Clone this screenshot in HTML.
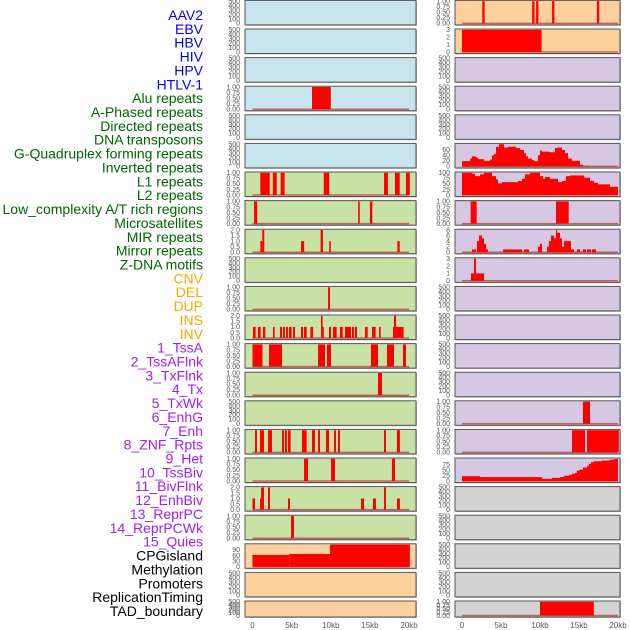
<!DOCTYPE html>
<html><head><meta charset="utf-8">
<style>
html,body{margin:0;padding:0;background:#fff;width:630px;height:630px;overflow:hidden}
svg{display:block;font-family:"Liberation Sans",sans-serif}
</style></head>
<body>
<svg id="chart" width="630" height="630" viewBox="0 0 630 630"></svg>
<script>
const trackLabels=["AAV2","EBV","HBV","HIV","HPV","HTLV-1","Alu repeats","A-Phased repeats","Directed repeats","DNA transposons","G-Quadruplex forming repeats","Inverted repeats","L1 repeats","L2 repeats","Low_complexity A/T rich regions","Microsatellites","MIR repeats","Mirror repeats","Z-DNA motifs","CNV","DEL","DUP","INS","INV","1_TssA","2_TssAFlnk","3_TxFlnk","4_Tx","5_TxWk","6_EnhG","7_Enh","8_ZNF_Rpts","9_Het","10_TssBiv","11_BivFlnk","12_EnhBiv","13_ReprPC","14_ReprPCWk","15_Quies","CPGisland","Methylation","Promoters","ReplicationTiming","TAD_boundary"];
const labelColors=[].concat(Array(6).fill("#0000ee"),Array(13).fill("#006400"),Array(5).fill("#ffa500"),Array(15).fill("#a020f0"),Array(5).fill("#000000"));
const xTicks=[0,5,10,15,20];
const xTickLabels=["0","5kb","10kb","15kb","20kb"];
const leftYmax=[500,500,500,1,500,500,1,1,2,500,1,2,1,1,500,1,1,2,1,118,500,500];
const rightYmax=[1,3,500,500,500,80,100,1,8,3,500,500,500,500,1,1,101,500,500,500,500,1];
const leftBg=["b","b","b","b","b","b","g","g","g","g","g","g","g","g","g","g","g","g","g","p","p","p"];
const rightBg=["p","p","u","u","u","u","u","u","u","u","u","u","u","u","u","u","u","k","k","k","k","k"];
const leftSegs=[[],[],[],[[7.6,10.0,1]],[],[],
[[1.0,2.2,1],[2.6,3.1,1],[3.6,4.1,1],[9.1,9.8,1],[16.8,17.3,1],[18.2,18.8,1],[19.6,20.1,1]],
[[0.2,0.6,1],[13.5,13.7,1],[15.0,15.3,1]],
[[1.0,1.25,1],[1.25,1.5,2],[6.2,6.6,1],[8.7,9.0,2],[9.8,10.0,1],[18.5,18.8,1]],
[],
[[9.65,9.9,1]],
[[0.06,0.4,1],[0.7,1.04,1],[1.34,1.64,1],[2.62,2.83,1],[3.51,3.77,1],[3.9,4.15,1],[4.28,4.53,1],[4.66,5.0,1],[5.17,5.43,1],[6.19,6.45,1],[6.58,6.92,1],[7.39,7.73,1],[8.75,8.95,2],[8.95,9.0,1],[9.77,10.03,1],[10.28,10.75,1],[11.17,11.52,1],[11.81,12.58,1],[12.71,12.96,1],[13.09,13.35,1],[14.37,14.71,1],[15.26,15.73,1],[16.16,16.37,1],[17.94,18.07,1],[18.07,18.33,2],[18.33,19.3,1]],
[[0,1.28,1],[2.1,3.77,1],[8.37,9.26,1],[9.51,10.03,1],[15.13,16.03,1],[17.18,18.07,1],[19.22,19.6,1]],
[[16.03,16.54,1]],
[],
[[0.32,0.57,1],[0.96,1.47,1],[1.98,2.49,1],[3.77,4.02,1],[4.15,4.4,1],[4.53,4.87,1],[6.32,6.92,1],[7.6,7.98,1],[8.37,8.62,1],[9.39,9.77,1],[10.41,10.66,1],[10.92,11.17,1],[16.8,17.05,1],[18.45,18.83,1]],
[[6.58,7.09,1],[10.03,10.54,1],[17.81,18.2,1]],
[[0,0.32,1],[0.96,1.1,1],[1.1,1.47,2],[1.98,2.23,2],[4.53,4.79,1],[13.86,14.24,1],[15.39,15.77,1],[16.8,17.05,2],[18.45,18.83,1]],
[[4.92,5.3,1]],
[[0,4.7,63],[4.7,9.9,68],[9.9,20.1,118]],
[],[]];
const rightSegs=[
[[2.6,2.9,1],[9.0,9.3,1],[9.5,9.8,1],[11.55,11.85,1],[17.3,17.6,1]],
[[0,10.2,3]],
[],[],[],
[[0,1.03,19],[1.03,1.28,28],[1.28,1.79,36],[1.79,2.05,32],[2.05,2.82,26],[2.82,3.59,20],[3.59,3.85,25],[3.85,4.1,40],[4.1,4.36,45],[4.36,4.74,70],[4.74,5.38,80],[5.38,5.9,68],[5.9,6.92,71],[6.92,7.44,66],[7.44,7.95,59],[7.95,8.2,48],[8.2,8.46,36],[8.46,8.97,28],[8.97,9.23,23],[9.23,9.74,19],[9.74,10.0,40],[10.0,10.26,57],[10.26,11.28,53],[11.28,11.92,51],[11.92,12.18,66],[12.18,12.82,68],[12.82,13.2,59],[13.2,13.59,48],[13.59,14.1,28],[14.1,15.13,20],[15.13,15.51,6],[15.51,16.41,2]],
[[0,1.28,100],[1.28,1.67,96],[1.67,2.31,85],[2.31,2.82,93],[2.82,3.85,100],[3.85,4.36,85],[4.36,4.62,70],[4.62,5.13,52],[5.13,7.18,58],[7.18,7.69,63],[7.69,8.08,73],[8.08,8.72,93],[8.72,10.0,100],[10.0,10.38,85],[10.38,10.64,73],[10.64,11.28,81],[11.28,12.31,73],[12.31,12.82,58],[12.82,13.33,63],[13.33,13.85,85],[13.85,15.64,88],[15.64,16.41,78],[16.41,16.92,63],[16.92,17.44,55],[17.44,18.97,48],[18.97,20.0,37]],
[[1.11,1.88,1],[12.05,13.68,1]],
[[1.28,1.79,1],[1.92,2.18,4],[2.18,2.56,6],[2.56,2.82,5],[2.82,3.08,3],[3.08,3.33,1],[5.26,7.69,1],[7.95,8.59,1],[9.74,10.0,2],[10.0,10.26,3],[10.9,11.15,2],[11.15,11.41,4],[11.41,11.79,6],[11.79,12.05,5],[12.05,12.18,8],[12.18,12.56,7],[12.56,12.82,5],[12.82,13.08,2],[13.08,13.97,4],[13.97,14.36,1],[14.74,15.13,1],[15.51,15.9,1],[16.03,16.54,1],[16.67,17.18,1]],
[[1.15,1.54,1],[1.54,1.79,3],[1.79,2.82,1]],
[],[],[],[],
[[15.51,16.41,1]],
[[14.1,15.77,1],[16.03,20.1,1]],
[[0,2.31,22],[2.31,10.26,18],[10.26,11.54,10],[11.54,12.56,14],[12.56,13.08,18],[13.08,13.72,24],[13.72,14.1,28],[14.1,14.49,33],[14.49,14.74,37],[14.74,15.0,47],[15.0,15.51,51],[15.51,16.03,61],[16.03,16.28,69],[16.28,16.54,78],[16.54,16.92,86],[16.92,17.95,90],[17.95,18.97,93],[18.97,19.49,97],[19.49,20.0,100]],
[],[],[],[],
[[10.0,16.9,1]]];
const tickSets={500:[0,100,200,300,400,500],1:[0,0.25,0.5,0.75,1],2:[0,0.5,1,1.5,2],3:[0,1,2,3],8:[0,2,4,6,8],80:[0,20,40,60],100:[0,25,50,75,100],101:[0,25,50,75],118:[0,30,60,90]};
const bgColors={b:"#c8e4ec",g:"#c8e1a4",p:"#fed09e",u:"#d6c7e2",k:"#d3d3d3"};

const NS="http://www.w3.org/2000/svg";
const svg=document.getElementById("chart");
function mk(tag,attrs,parent){const e=document.createElementNS(NS,tag);for(const k in attrs)e.setAttribute(k,attrs[k]);(parent||svg).appendChild(e);return e;}
function fmt(v,ymax){if(ymax===1)return v.toFixed(2);if(ymax===2)return v.toFixed(1);return String(v);}

// labels
trackLabels.forEach((t,i)=>{
  const e=mk("text",{x:203,y:20+i*13.86,"text-anchor":"end","font-size":"14",fill:labelColors[i]});
  e.textContent=t;
  
  
});

const cols=[{x0:245,x1:416,px0:252.5,pk:7.83,ymax:leftYmax,bg:leftBg,segs:leftSegs,tx:240,name:"left"},
            {x0:455,x1:620,px0:462,pk:7.8,ymax:rightYmax,bg:rightBg,segs:rightSegs,tx:450,name:"right"}];
cols.forEach(c=>{
  for(let i=0;i<22;i++){
    const top=0.4+i*28.6, h=(i===21)?16:24.5, bot=top+h;
    const g=mk("g",{});
    
    
    mk("rect",{x:c.x0+1,y:top+1,width:c.x1-c.x0,height:h,fill:"#bbb"},g);
    mk("rect",{x:c.x0,y:top,width:c.x1-c.x0,height:h,fill:bgColors[c.bg[i]],stroke:"#555","stroke-width":1},g);
    const ymax=c.ymax[i];
    const yS=v=>top+0.8+(1-v/ymax)*(h-2.3);
    const xS=k=>c.px0+k*c.pk;
    (tickSets[ymax]||[]).forEach(v=>{
      const t=mk("text",{x:c.tx,y:yS(v)+2.3,"text-anchor":"end","font-size":"7",fill:"#555"},g);
      t.textContent=fmt(v,ymax);
      
      
    });
    if(ymax!==500){
      const bl=mk("line",{x1:xS(0),x2:xS(20),y1:yS(0),y2:yS(0),stroke:"#c0302a","stroke-width":1.5,"stroke-opacity":0.7},g);
      
      
    }
    c.segs[i].forEach(s=>{
      const x=xS(s[0]),w=Math.max(1.2,xS(s[1])-xS(s[0]));
      const y=Math.max(top+0.5,yS(Math.min(s[2],ymax)));
      const r=mk("rect",{x:x,y:y,width:w,height:yS(0)-y,fill:"#ff0000"},g);
      
      
    });
  }
  xTicks.forEach((k,j)=>{
    const t=mk("text",{x:c.px0+k*c.pk,y:628,"text-anchor":"middle","font-size":"8",fill:"#555"});
    t.textContent=xTickLabels[j];
    
    
  });
});
</script>
</body></html>
